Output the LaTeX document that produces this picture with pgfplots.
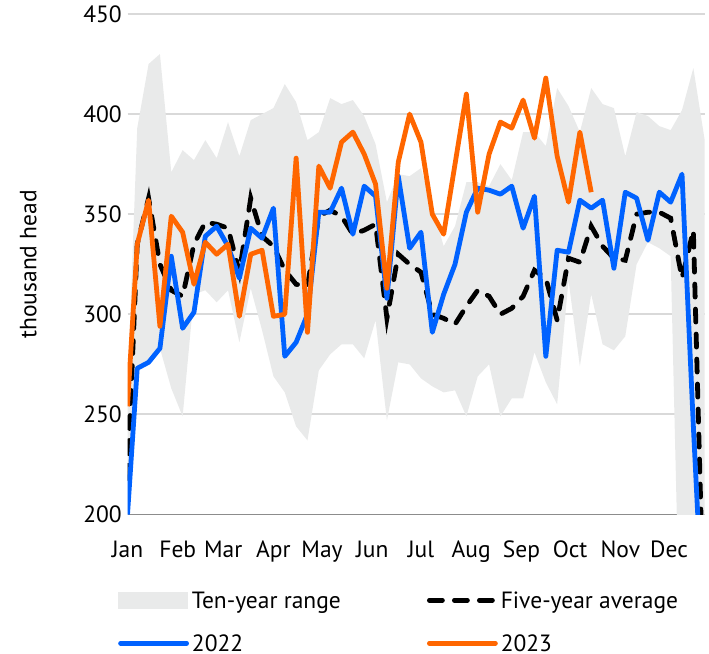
\documentclass[border=0pt]{standalone}
\usepackage{fontspec}
\setmainfont{PT Sans}
\usepackage{pgfplots}
\usepackage{pgfplotstable}
\pgfplotsset{compat=1.18}
\usepgfplotslibrary{fillbetween}

\definecolor{rangegrey}{RGB}{233,234,234}
\definecolor{gridgrey}{RGB}{217,217,217}
\definecolor{axisgrey}{RGB}{140,140,140}
\definecolor{blue22}{RGB}{0,98,255}
\definecolor{orange23}{RGB}{255,102,0}
\newcommand\chartfont{\fontsize{23.5bp}{28bp}\selectfont}
\pgfplotsset{
  lineleg/.style={legend image code/.code={\draw[##1, line cap=round] (2bp,0bp) -- (68bp,0bp);}},
  dashleg/.style={legend image code/.code={\draw[##1] (2bp,0bp) -- (66bp,0bp);}},
  areleg/.style={legend image code/.code={\fill[rangegrey] (0bp,-8bp) rectangle (69bp,8bp);}},
}

% weekly values, thousand head; day = day of year
\pgfplotstableread{
day lo hi avg y22
0 200 262 218 200
6 272 393 335 273
13 276 425 358 276
20 283 430 325 283
27 263 371 312 329
34 249 382 309 293
41 310 377 335 301
48 312 387 346 339
55 306 378 345 344
62 312 396 343 334
69 286 379 321 318
76 313 397 358 343
83 292 400 339 338
90 269 403 334 353
97 261 415 322 279
104 244 406 315 286
111 237 387 314 300
118 272 391 349 351
125 280 408 352 351
132 285 405 349 363
139 285 407 340 340
146 278 399 342 364
153 297 385 345 359
160 247 356 298 308
167 276 370 330 369
174 275 369 325 333
181 268 373 321 341
188 264 354 300 291
195 261 334 298 310
202 262 344 295 325
209 249 366 304 351
216 269 366 312 363
223 275 364 309 362
230 249 375 300 360
237 258 367 303 364
244 258 391 309 343
251 281 391 322 359
258 266 384 318 279
265 255 413 297 332
272 317 404 328 331
279 274 391 326 357
286 310 413 344 353
293 285 405 334 357
300 282 403 328 323
307 289 379 327 361
314 325 401 350 358
321 336 399 351 337
328 333 394 351 361
335 329 392 348 356
342 90 402 318 370
349 80 423 342 244
356 80 387 130 130
}\weekly

\pgfplotstableread{
day y23
0 254
6 335
13 357
20 294
27 349
34 341
41 315
48 336
55 330
62 335
69 299
76 330
83 332
90 299
97 300
104 378
111 291
118 374
125 363
132 386
139 391
146 380
153 365
160 313
167 376
174 400
181 386
188 350
195 340
202 375
209 410
216 351
223 380
230 396
237 393
244 407
251 388
258 418
265 379
272 356
279 391
286 361
}\thisyear

\begin{document}
\begin{tikzpicture}
\begin{axis}[
  name=ax, scale only axis, width=577.2bp, height=500.5bp,
  xmin=0, xmax=356, ymin=200, ymax=450,
  axis x line*=bottom, axis y line*=left,
  x axis line style={axisgrey, line width=1.8bp},
  y axis line style={draw=none},
  major tick length=0pt,
  xtick={0,31,59,90,120,151,181,212,243,273,304,334},
  xticklabels={Jan,Feb,Mar,Apr,May,Jun,Jul,Aug,Sep,Oct,Nov,Dec},
  ytick={200,250,300,350,400,450},
  ymajorgrids, grid style={gridgrey, line width=1.8bp},
  tick label style={font=\chartfont, text=black},
  /pgf/number format/assume math mode=true,
  yticklabel style={anchor=east, inner sep=0pt, xshift=-5.5bp},
  xticklabel style={anchor=base, inner sep=0pt, yshift=-42.5bp},
  ylabel={thousand head},
  ylabel style={at={(axis description cs:-0.172,0.5)}, anchor=center, font=\chartfont},
  legend columns=2, legend cell align=left,
  legend style={at={(axis description cs:0,0)}, anchor=north west, xshift=-9.5bp, yshift=-77bp,
    draw=none, fill=none, inner sep=0pt, row sep=26bp, font=\chartfont,
    nodes={inner sep=0pt, text height=17bp, text depth=0bp},
    /tikz/every odd column/.style={column sep=3bp}},
]
\addplot[name path=hi, draw=none, forget plot] table[x=day, y=hi] {\weekly};
\addplot[name path=lo, draw=none, forget plot] table[x=day, y=lo] {\weekly};
\addplot[rangegrey, areleg] fill between[of=hi and lo];
\addlegendentry{\makebox[235bp][l]{Ten-year range}}
\addplot[black, line width=4.8bp, dash pattern=on 13bp off 12bp, line cap=round, dashleg]
  table[x=day, y=avg] {\weekly};
\addlegendentry{Five-year average}
\addplot[blue22, line width=4.8bp, line join=round, lineleg]
  table[x=day, y=y22] {\weekly};
\addlegendentry{\makebox[235bp][l]{2022}}
\addplot[orange23, line width=4.8bp, line join=round, lineleg]
  table[x=day, y=y23] {\thisyear};
\addlegendentry{2023}
\end{axis}
\pgfresetboundingbox
\path (ax.south west) ++(-127.5bp,-139.5bp) rectangle ++(709bp,654bp);
\end{tikzpicture}
\end{document}
